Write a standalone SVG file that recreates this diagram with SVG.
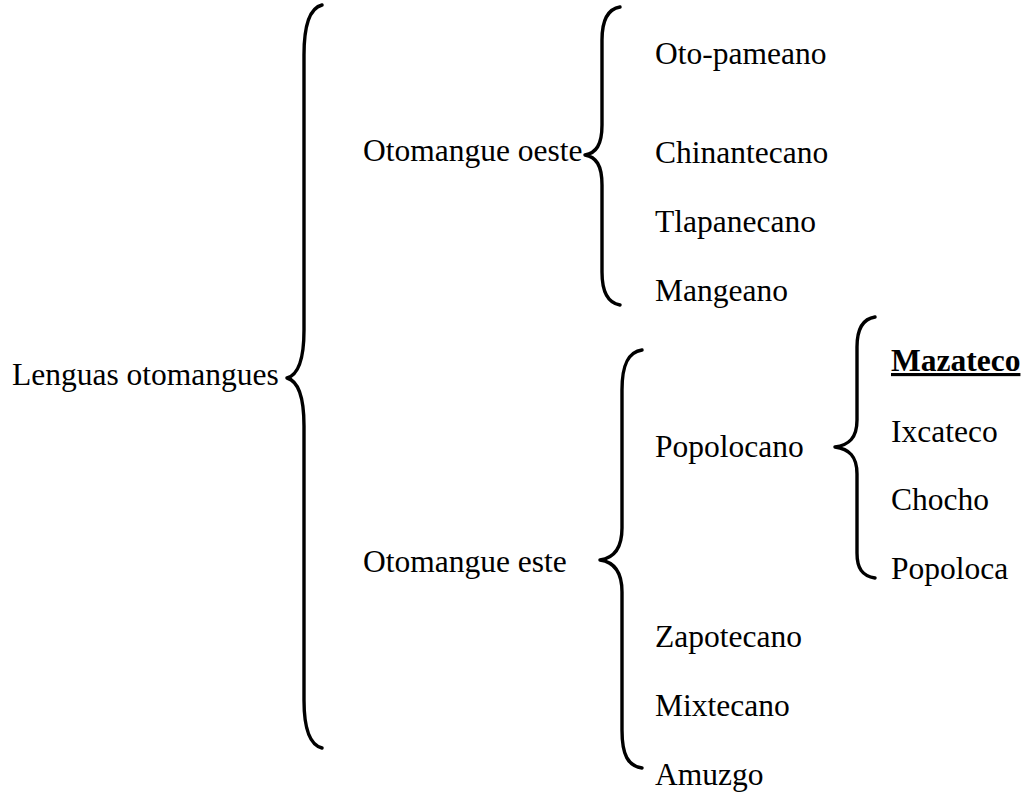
<svg xmlns="http://www.w3.org/2000/svg" width="1028" height="795" viewBox="0 0 1028 795">
<style>
text{font-family:"Liberation Serif","Times New Roman",serif;font-size:31.5px;fill:#000}
.b{font-weight:bold;text-decoration:underline}
.brace{fill:none;stroke:#000;stroke-width:3.4;stroke-linecap:round;stroke-linejoin:round}
</style>
<rect width="1028" height="795" fill="#fff"/>
<g id="connectors">
<path class="brace" d="M322,5 C310,8 304,25 304,55 L304,330 C304,360 298,375 287,378 C298,381 304,396 304,426 L304,700 C304,730 310,745 322,748"/>
<path class="brace" d="M620,7 C608,9 602,20 602,40 L602,125 C602,145 596,153 585,155 C596,157 602,165 602,185 L602,272 C602,292 608,303 620,305"/>
<path class="brace" d="M642,350 C628,352 622,365 622,390 L622,528 C622,548 614,558 600,560 C614,562 622,572 622,592 L622,730 C622,755 628,766 642,768"/>
<path class="brace" d="M875,317 C862,319 857,330 857,347 L857,420 C857,438 849,445 835,447 C849,449 857,456 857,474 L857,553 C857,568 862,576 875,578"/>
</g>
<g id="n-lenguas"><text x="12" y="385">Lenguas otomangues</text></g>
<g id="n-oeste"><text x="363" y="161">Otomangue oeste</text></g>
<g id="n-este"><text x="363" y="572">Otomangue este</text></g>
<g id="n-otopameano"><text x="655" y="64">Oto-pameano</text></g>
<g id="n-chinantecano"><text x="655" y="163">Chinantecano</text></g>
<g id="n-tlapanecano"><text x="655" y="232">Tlapanecano</text></g>
<g id="n-mangeano"><text x="655" y="301">Mangeano</text></g>
<g id="n-popolocano"><text x="655" y="457">Popolocano</text></g>
<g id="n-zapotecano"><text x="655" y="647">Zapotecano</text></g>
<g id="n-mixtecano"><text x="655" y="716">Mixtecano</text></g>
<g id="n-amuzgo"><text x="655" y="785">Amuzgo</text></g>
<g id="n-mazateco"><text class="b" x="891" y="371">Mazateco</text></g>
<g id="n-ixcateco"><text x="891" y="442">Ixcateco</text></g>
<g id="n-chocho"><text x="891" y="510">Chocho</text></g>
<g id="n-popoloca"><text x="891" y="579">Popoloca</text></g>
</svg>
